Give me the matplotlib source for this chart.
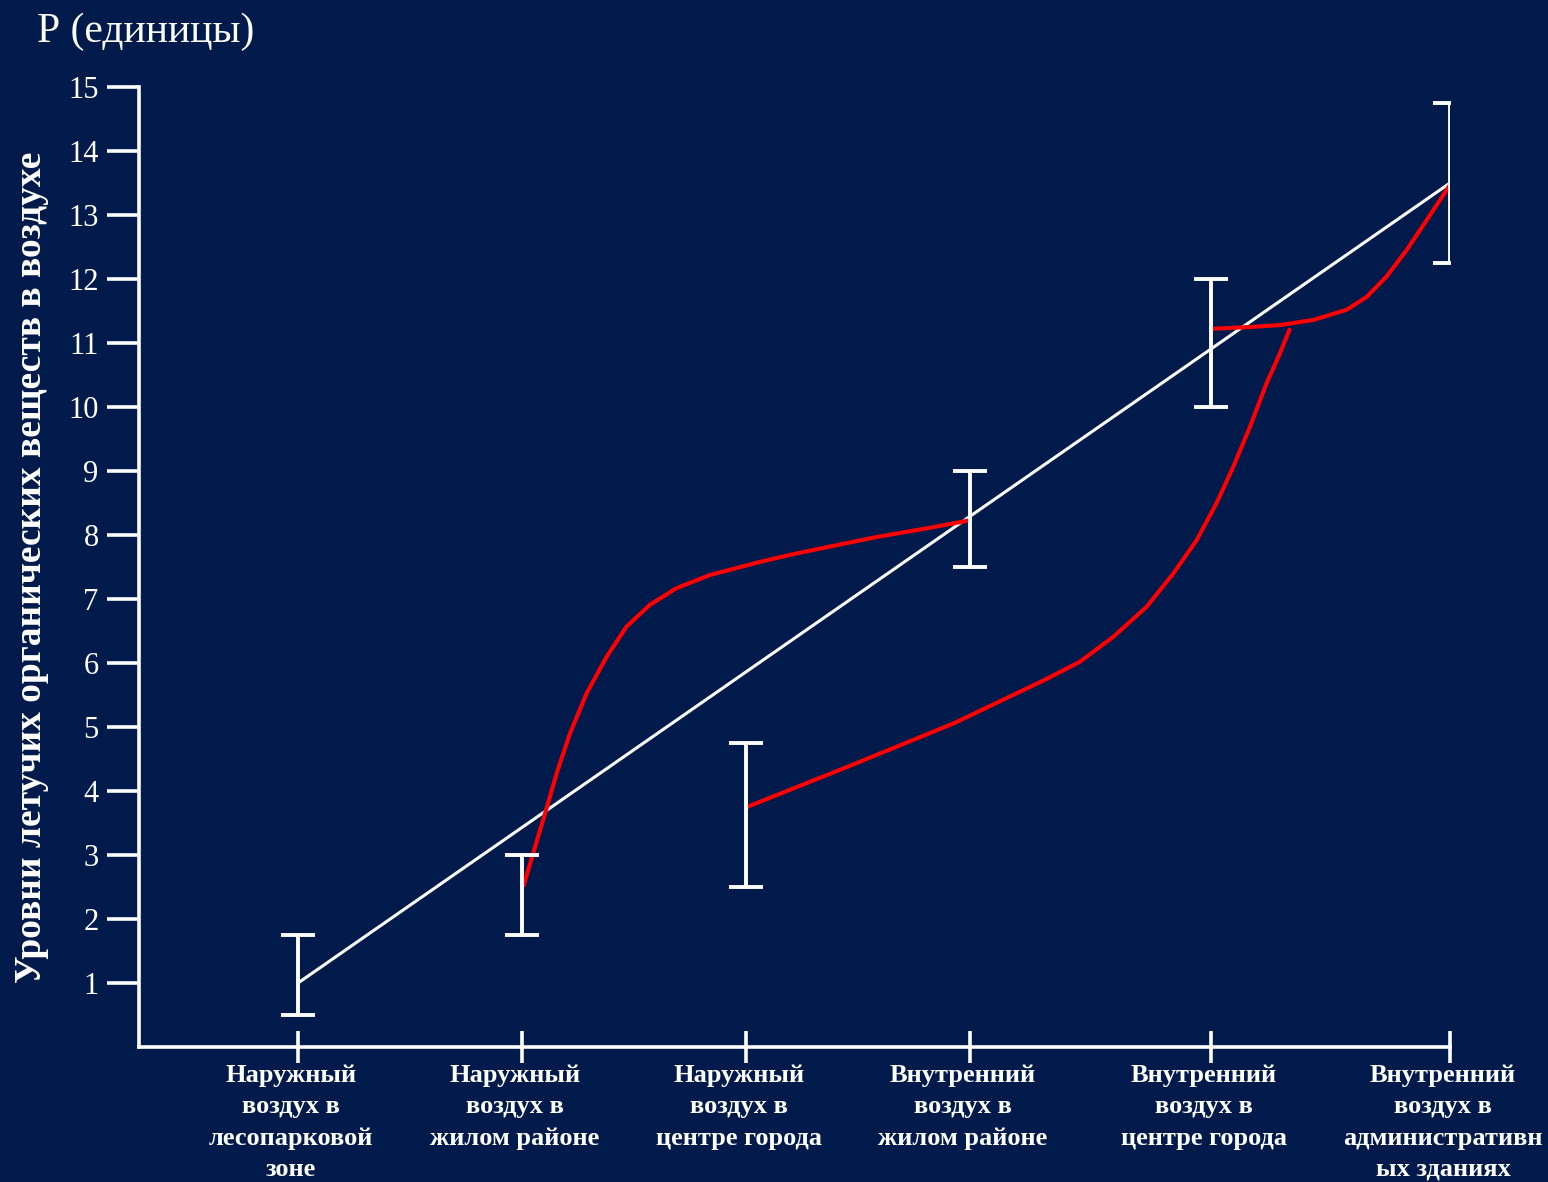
import matplotlib
matplotlib.use('Agg')
import matplotlib.pyplot as plt
import matplotlib.transforms as mtransforms

BG = '#001a4b'

categories = [
    'Наружный\nвоздух в\nлесопарковой\nзоне',
    'Наружный\nвоздух в\nжилом районе',
    'Наружный\nвоздух в\nцентре города',
    'Внутренний\nвоздух в\nжилом районе',
    'Внутренний\nвоздух в\nцентре города',
    'Внутренний\nвоздух в\nадминистративн\nых зданиях',
]
cat_x = [1, 2, 3, 4, 5.076, 6.143]

# error bars: centre, low, high
err_mid = [1.0, 2.5, 3.75, 8.25, 11.2, 13.5]
err_low = [0.5, 1.75, 2.5, 7.5, 10.0, 12.25]
err_high = [1.75, 3.0, 4.75, 9.0, 12.0, 14.75]

# straight white trend
trend_x = [1, 6.143]
trend_y = [1.0, 13.5]

# red curves
red_a_x = [2.006, 2.05, 2.103, 2.155, 2.214, 2.289, 2.378, 2.467, 2.571, 2.69,
           2.839, 3.0625, 3.21, 3.375, 3.585, 3.8, 4.0]
red_a_y = [2.505, 3.03, 3.65, 4.28, 4.90, 5.53, 6.10, 6.57, 6.91, 7.17,
           7.375, 7.58, 7.70, 7.82, 7.97, 8.1, 8.23]

red_b_x = [3.004, 3.451, 3.929, 4.33, 4.491, 4.64, 4.789, 4.908, 5.012, 5.101,
           5.176, 5.25, 5.324, 5.384, 5.429]
red_b_y = [3.75, 4.375, 5.06, 5.73, 6.02, 6.41, 6.88, 7.40, 7.92, 8.50,
           9.07, 9.69, 10.37, 10.84, 11.23]

red_c_x = [5.071, 5.25, 5.384, 5.533, 5.682, 5.771, 5.86, 5.949, 6.039, 6.143]
red_c_y = [11.22, 11.25, 11.28, 11.36, 11.52, 11.72, 12.04, 12.45, 12.92, 13.47]

yticks = list(range(1, 16))

plt.rcParams['font.family'] = ['Liberation Serif', 'DejaVu Serif']

fig = plt.figure(figsize=(15.48, 11.82), dpi=100, facecolor=BG)
ax = fig.add_axes([139 / 1548, 1 - 1047 / 1182, (1450 - 139) / 1548, (1047 - 87) / 1182])
ax.set_facecolor(BG)

ax.plot(trend_x, trend_y, color='white', lw=2.2, zorder=2)
for xs, ys in [(red_a_x, red_a_y), (red_b_x, red_b_y), (red_c_x, red_c_y)]:
    ax.plot(xs, ys, color='#ff0000', lw=3, zorder=3, solid_capstyle='butt',
            solid_joinstyle='round')

yerr = [[m - lo for m, lo in zip(err_mid, err_low)],
        [hi - m for m, hi in zip(err_mid, err_high)]]
ax.errorbar(cat_x, err_mid, yerr=yerr, fmt='none', ecolor='white',
            elinewidth=2.8, capsize=12, capthick=2.8, zorder=4)

ax.set_xlim(0.29, 6.143)
ax.set_ylim(0, 15)
ax.set_yticks(yticks)
ax.set_xticks(cat_x)
ax.set_xticklabels(categories, fontsize=19, fontweight='bold', color='white',
                   linespacing=1.45)
ax.tick_params(axis='x', direction='inout', length=23, width=2.6, color='white', pad=1)
ax.tick_params(axis='y', direction='out', length=23, width=2.6, color='white',
               labelsize=22, labelcolor='white', pad=6)

shift = mtransforms.ScaledTranslation(-7 / 100, 0, fig.dpi_scale_trans)
for lbl in ax.get_xticklabels():
    lbl.set_transform(lbl.get_transform() + shift)

for s in ['top', 'right']:
    ax.spines[s].set_visible(False)
for s in ['left', 'bottom']:
    ax.spines[s].set_color('white')
    ax.spines[s].set_linewidth(2.6)

ax.set_ylabel('Уровни летучих органических веществ в воздухе', fontsize=27,
              fontweight='bold', color='white', labelpad=14)

fig.text(37 / 1548, 1 - 42 / 1182, 'Р (единицы)', fontsize=30, color='white',
         va='baseline', ha='left')

plt.savefig('out.png', dpi=100, facecolor=BG)
